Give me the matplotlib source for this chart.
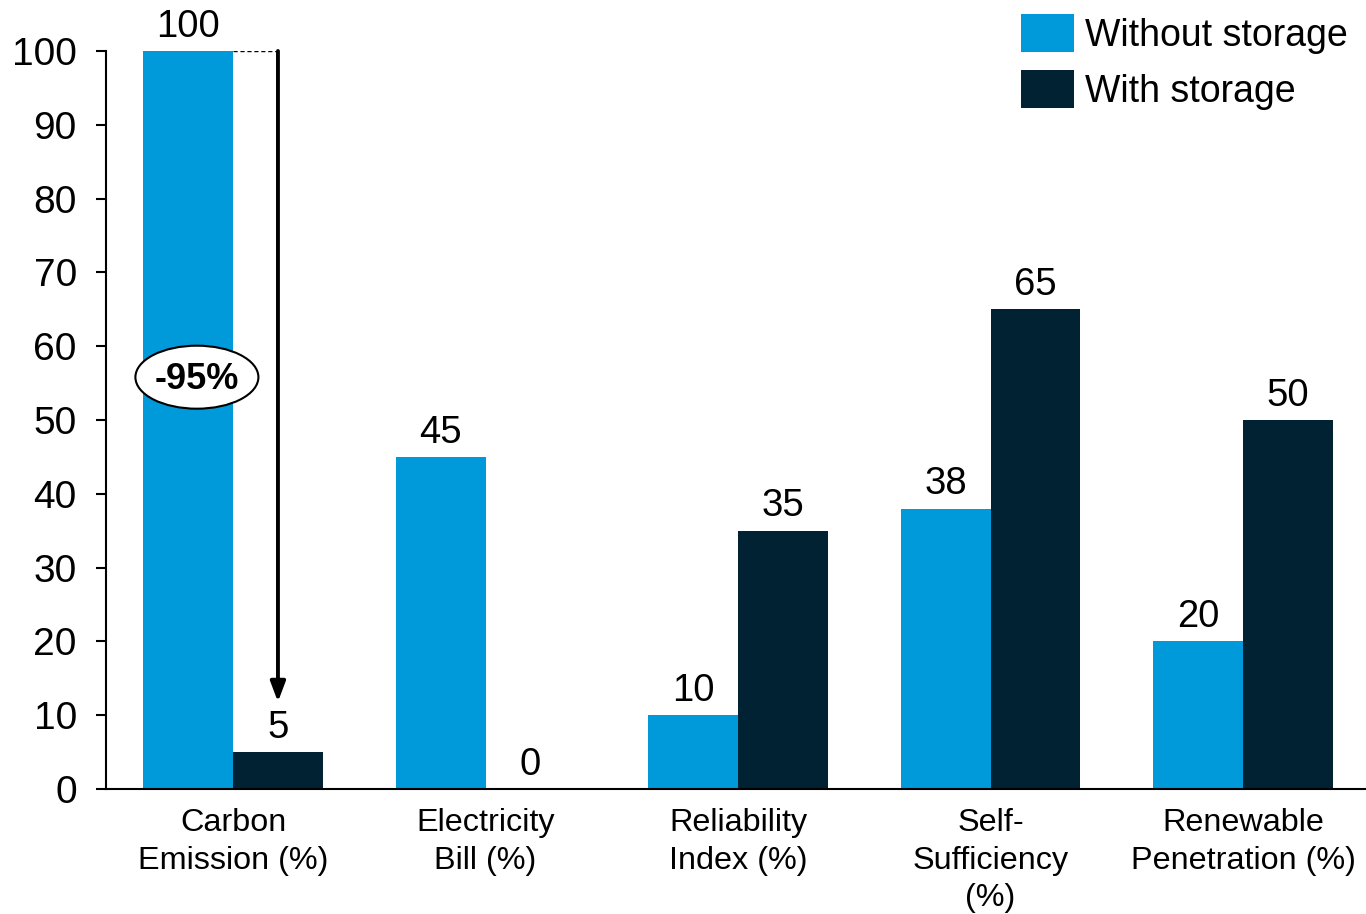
import matplotlib
matplotlib.use("Agg")
import matplotlib.pyplot as plt
import numpy as np
from matplotlib.patches import Ellipse

categories = ["Carbon\nEmission (%)", "Electricity\nBill (%)", "Reliability\nIndex (%)",
              "Self-\nSufficiency\n(%)", "Renewable\nPenetration (%)"]
without_storage = [100, 45, 10, 38, 20]
with_storage = [5, 0, 35, 65, 50]
series_names = ["Without storage", "With storage"]
reduction_label = "-95%"

c_light = "#009ADA"
c_dark = "#012232"

plt.rcParams['font.family'] = ['Liberation Sans', 'DejaVu Sans']

fig = plt.figure(figsize=(13.66, 9.14), dpi=100)
ax = fig.add_axes([106/1366, 125/914, 1 - 106/1366, (789-51)/914])

x = np.arange(len(categories))
w = 0.356
b1 = ax.bar(x - w/2, without_storage, w, color=c_light, label=series_names[0])
b2 = ax.bar(x + w/2, with_storage, w, color=c_dark, label=series_names[1])

ax.bar_label(b1, padding=4.5, fontsize=27.5)
ax.bar_label(b2, padding=4.5, fontsize=27.5)

ax.set_xlim(-0.503, 4.487)
ax.set_ylim(0, 100)
ax.set_yticks(np.arange(0, 101, 10))
ax.set_xticks(x)
ax.set_xticklabels(categories, fontsize=23.3, linespacing=1.34)
ax.tick_params(axis='x', length=0, pad=13.5)
ax.tick_params(axis='y', length=7, width=1.5, labelsize=28, pad=14)

for s in ['top', 'right']:
    ax.spines[s].set_visible(False)
for s in ['left', 'bottom']:
    ax.spines[s].set_linewidth(1.5)
ax.spines['bottom'].set_zorder(5)

# annotation: dashed line and arrow
x_arrow = x[0] + w/2
ax.plot([x[0], x_arrow], [without_storage[0], without_storage[0]], color='black',
        linestyle=(0, (3, 2)), linewidth=1)
ax.annotate("", xy=(x_arrow, 11.8), xytext=(x_arrow, without_storage[0]),
            arrowprops=dict(arrowstyle="-|>,head_width=0.45,head_length=1.2",
                            color='black', lw=2.8, shrinkA=0, shrinkB=0))

ell = Ellipse((x[0] - 0.143, 55.8), width=123/252.5, height=63/7.38,
              facecolor='white', edgecolor='black', linewidth=1.5, zorder=6)
ax.add_patch(ell)
ax.text(x[0] - 0.143, 55.5, reduction_label, ha='center', va='center',
        fontsize=26, fontweight='bold', zorder=7)

leg = ax.legend(loc='upper right', bbox_to_anchor=(1348/1366, 900/914),
                bbox_transform=fig.transFigure, frameon=False,
                fontsize=27, handlelength=1.41, handleheight=1.2,
                handletextpad=0.3, labelspacing=0.42, borderaxespad=0.0,
                borderpad=0.0)

fig.savefig("out.png", dpi=100)
